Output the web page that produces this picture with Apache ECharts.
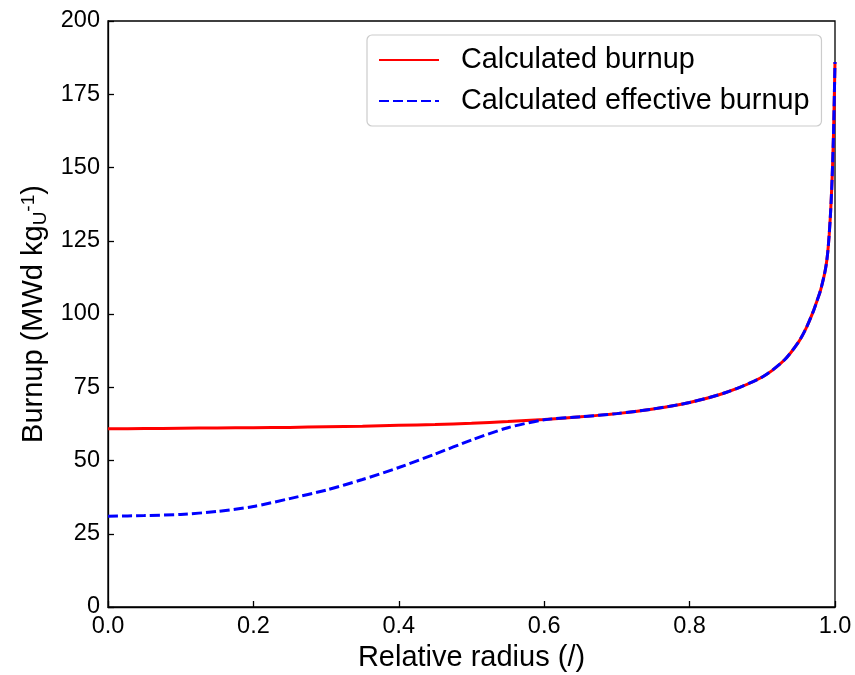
<!DOCTYPE html>
<html>
<head>
<meta charset="utf-8">
<script src="https://cdn.jsdelivr.net/npm/echarts@6/dist/echarts.min.js"></script>
<style>html,body{margin:0;padding:0;background:#fff}#c{width:855px;height:675px}</style>
</head>
<body>
<div id="c"></div>
<script>
const radius = [0, 0.05, 0.1, 0.15, 0.2, 0.25, 0.3, 0.35, 0.4, 0.45, 0.5, 0.55, 0.6, 0.65, 0.7, 0.75, 0.8, 0.85, 0.9, 0.93, 0.95, 0.96, 0.97, 0.975, 0.98, 0.985, 0.988, 0.99, 0.992, 0.994, 0.996, 0.998, 1.0];
const burnup = [60.8, 60.9, 61.0, 61.1, 61.2, 61.3, 61.5, 61.7, 62.0, 62.3, 62.7, 63.3, 64.0, 64.9, 66.0, 67.6, 69.8, 73.2, 78.5, 84.2, 90.5, 95, 100.8, 104.3, 108, 113, 117, 121, 127, 135, 146, 162, 186];
const effectiveBurnup = [31.0, 31.2, 31.6, 32.6, 34.3, 37.0, 39.9, 43.5, 47.6, 52.2, 57.0, 61.2, 63.9, 64.9, 66.0, 67.6, 69.8, 73.2, 78.5, 84.2, 90.5, 95, 100.8, 104.3, 108, 113, 117, 121, 127, 135, 146, 162, 186];
const xTicks = [0, 0.2, 0.4, 0.6, 0.8, 1.0];
const yTicks = [0, 25, 50, 75, 100, 125, 150, 175, 200];
const seriesNames = ['Calculated burnup', 'Calculated effective burnup'];

const font = 'Liberation Sans, Arial, Helvetica, sans-serif';
const chart = echarts.init(document.getElementById('c'), null, {renderer: 'canvas'});
const pairs = (ys) => radius.map((r, i) => [r, ys[i]]);

chart.setOption({
  animation: false,
  backgroundColor: '#fff',
  grid: {left: 108, right: 20, top: 21, bottom: 68, outerBoundsMode: 'none', containLabel: false,
         show: true, borderColor: '#000', borderWidth: 1.3, backgroundColor: 'transparent'},
  legend: {
    left: 367, top: 35, orient: 'vertical',
    itemWidth: 60, itemHeight: 14, itemGap: 11,
    padding: [10, 12, 10, 11],
    borderColor: '#cccccc', borderWidth: 1.2, borderRadius: 5,
    itemStyle: {opacity: 0},
    textStyle: {fontFamily: font, fontSize: 28.8, color: '#000', lineHeight: 30, padding: [0, 0, 0, 17]},
    data: seriesNames
  },
  xAxis: {
    type: 'value', min: 0, max: 1, interval: 0.2,
    name: 'Relative radius (/)', nameLocation: 'middle', nameGap: 36,
    nameTextStyle: {fontFamily: font, fontSize: 29, color: '#000'},
    axisLine: {show: true, lineStyle: {color: '#000', width: 1.3}},
    axisTick: {show: true, inside: true, length: 6, lineStyle: {color: '#000', width: 1.3}},
    axisLabel: {fontFamily: font, fontSize: 23.5, color: '#000', margin: 8, formatter: v => xTicks.includes(+v.toFixed(1)) ? v.toFixed(1) : ''},
    splitLine: {show: false}
  },
  yAxis: {
    type: 'value', min: 0, max: 200, interval: 25,
    name: 'Burnup (MWd kg{sub|U}{sup|-1})', nameLocation: 'middle', nameGap: 57, nameRotate: 90,
    nameTextStyle: {fontFamily: font, fontSize: 29, color: '#000',
      rich: {
        sub: {fontFamily: font, fontSize: 19, color: '#000', verticalAlign: 'bottom', padding: [12, 0, 0, 0]},
        sup: {fontFamily: font, fontSize: 19, color: '#000', verticalAlign: 'top', padding: [0, 0, 12, 0]}
      }},
    axisLine: {show: true, lineStyle: {color: '#000', width: 1.3}},
    axisTick: {show: true, inside: true, length: 6, lineStyle: {color: '#000', width: 1.3}},
    axisLabel: {fontFamily: font, fontSize: 23.5, color: '#000', margin: 8, formatter: v => yTicks.includes(v) ? String(v) : ''},
    splitLine: {show: false}
  },
  series: [
    {name: seriesNames[0], type: 'line', data: pairs(burnup), showSymbol: false, symbol: 'none',
     smooth: 0.25, lineStyle: {color: '#ff0000', width: 3}, itemStyle: {color: '#ff0000'}, z: 2},
    {name: seriesNames[1], type: 'line', data: pairs(effectiveBurnup), showSymbol: false, symbol: 'none',
     smooth: 0.25, lineStyle: {color: '#0000ff', width: 3, type: [10, 4]}, itemStyle: {color: '#0000ff'}, z: 3}
  ]
});
</script>
</body>
</html>
